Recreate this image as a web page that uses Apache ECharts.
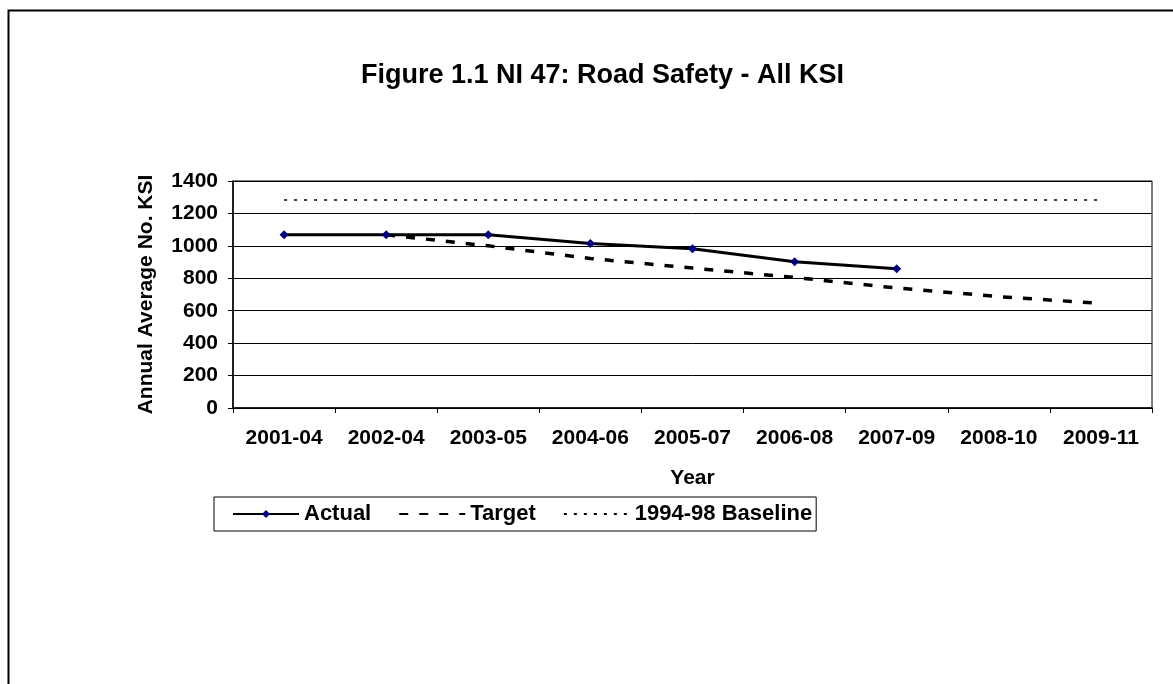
<!DOCTYPE html>
<html>
<head>
<meta charset="utf-8">
<script src="https://cdn.jsdelivr.net/npm/echarts@6/dist/echarts.min.js"></script>
<style>
  html, body { margin: 0; padding: 0; background: #fff; }
  #chart { width: 1173px; height: 684px; }
</style>
</head>
<body>
<div id="chart"></div>
<script>
const years = ["2001-04", "2002-04", "2003-05", "2004-06", "2005-07", "2006-08", "2007-09", "2008-10", "2009-11"];
const actual = [1068, 1068, 1068, 1014, 982, 902, 859, null, null];
const target = [null, 1068, 1000, 922, 863, 805, 740, 687, 645];
const baseline = [1283, 1283, 1283, 1283, 1283, 1283, 1283, 1283, 1283];
const yTicks = [0, 200, 400, 600, 800, 1000, 1200, 1400];

const font = "'Liberation Sans', Arial, sans-serif";
const hideSymbol = { opacity: 0 };

var myChart = echarts.init(document.getElementById("chart"));

myChart.setOption({
  animation: false,
  backgroundColor: "#fff",
  title: {
    text: "Figure 1.1 NI 47: Road Safety - All KSI",
    left: 356,
    top: 57,
    textStyle: { fontFamily: font, fontWeight: "bold", fontSize: 27, color: "#000" },
  },
  // outer chart frame
  graphic: [
    {
      type: "rect",
      shape: { x: 8.5, y: 10.5, width: 1200, height: 700 },
      style: { fill: "none", stroke: "#000", lineWidth: 2 },
      silent: true,
    },
  ],
  legend: {
    left: 214,
    top: 497,
    orient: "horizontal",
    itemWidth: 66,
    itemHeight: 10,
    itemGap: 27,
    padding: [6, 4, 6, 18],
    borderColor: "#000",
    borderWidth: 1,
    textStyle: { fontFamily: font, fontWeight: "bold", fontSize: 22, color: "#000" },
    data: [
      { name: "Actual" },
      { name: "Target", itemStyle: hideSymbol },
      { name: "1994-98 Baseline", itemStyle: hideSymbol },
    ],
  },
  grid: {
    left: 233,
    right: 21,
    top: 181,
    bottom: 276,
    show: true,
    borderColor: "#000",
    borderWidth: 1,
  },
  xAxis: {
    type: "category",
    data: years,
    boundaryGap: true,
    name: "Year",
    nameLocation: "middle",
    nameGap: 60,
    nameTextStyle: { fontFamily: font, fontWeight: "bold", fontSize: 21, color: "#000" },
    axisLine: { lineStyle: { color: "#000", width: 1.5 } },
    axisTick: { show: true, length: 5, lineStyle: { color: "#000" } },
    axisLabel: { margin: 20, fontFamily: font, fontWeight: "bold", fontSize: 21, color: "#000" },
  },
  yAxis: {
    type: "value",
    min: yTicks[0],
    max: yTicks[yTicks.length - 1],
    interval: 200,
    name: "Annual Average No. KSI",
    nameLocation: "middle",
    nameGap: 76,
    nameTextStyle: { fontFamily: font, fontWeight: "bold", fontSize: 21, color: "#000" },
    axisLine: { show: true, lineStyle: { color: "#000", width: 1.5 } },
    axisTick: { show: true, length: 5, lineStyle: { color: "#000" } },
    axisLabel: {
      margin: 15,
      fontFamily: font,
      fontWeight: "bold",
      fontSize: 21,
      color: "#000",
      formatter: (v) => String(v),
    },
    splitLine: { show: true, lineStyle: { color: "#000", width: 1 } },
  },
  series: [
    {
      name: "Actual",
      type: "line",
      data: actual,
      symbol: "diamond",
      symbolSize: 9,
      itemStyle: { color: "#000080" },
      lineStyle: { color: "#000", width: 3 },
      z: 5,
    },
    {
      name: "Target",
      type: "line",
      data: target,
      symbol: "none",
      itemStyle: { color: "#000" },
      lineStyle: { color: "#000", width: 3.5, type: [9, 11] },
      z: 3,
    },
    {
      name: "1994-98 Baseline",
      type: "line",
      data: baseline,
      symbol: "none",
      itemStyle: { color: "#000" },
      lineStyle: { color: "#000", width: 1.5, type: [3, 7] },
      z: 3,
    },
  ],
});
</script>
</body>
</html>
